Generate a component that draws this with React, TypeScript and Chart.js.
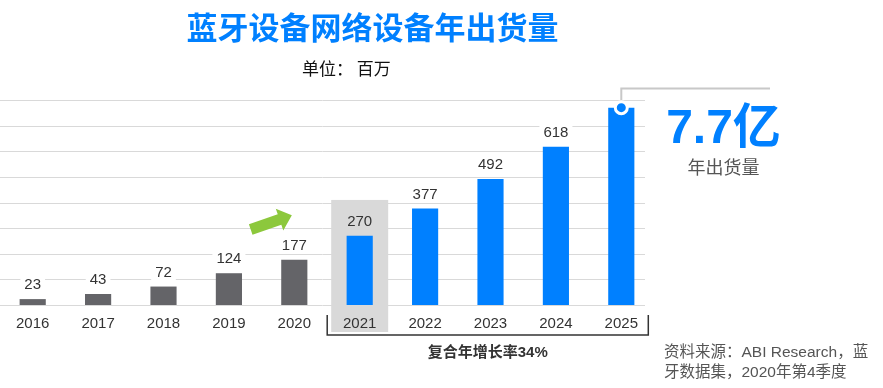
import React, { useEffect, useRef } from "react";
import { Chart, registerables } from "chart.js";

Chart.register(...registerables);

const years = ["2016", "2017", "2018", "2019", "2020", "2021", "2022", "2023", "2024", "2025"];
const shipments = [23, 43, 72, 124, 177, 270, 377, 492, 618, 770];
const forecastStartIndex = 5;
const gridValues = [0, 100, 200, 300, 400, 500, 600, 700, 800];
const highlightTopValue = 410;

const titleText = "蓝牙设备网络设备年出货量";
const unitText = "单位： 百万";
const calloutValue = "7.7亿";
const calloutLabel = "年出货量";
const cagrText = "复合年增长率34%";
const sourceLines = ["资料来源：ABI Research，蓝", "牙数据集，2020年第4季度"];

const BLUE = "#0080ff";
const GRAY_BAR = "#646468";
const GREEN = "#8cc83c";
const LATIN = '"Liberation Sans", "Noto Sans CJK SC", sans-serif';
const CJK = '"Noto Sans CJK SC", "Liberation Sans", sans-serif';

const decoPlugin = {
  id: "deco",
  beforeDraw(chart: any) {
    const { ctx, chartArea, scales } = chart;
    const x = scales.x;
    const y = scales.y;
    ctx.save();
    ctx.strokeStyle = "#d9d9d9";
    ctx.lineWidth = 1;
    gridValues.forEach((v) => {
      const py = Math.round(y.getPixelForValue(v)) + 0.5;
      ctx.beginPath();
      ctx.moveTo(0, py);
      ctx.lineTo(645, py);
      ctx.stroke();
    });
    const cx = x.getPixelForValue(forecastStartIndex);
    const top = y.getPixelForValue(highlightTopValue);
    ctx.fillStyle = "#d9d9d9";
    ctx.fillRect(cx - 28.5, top, 57, chartArea.bottom + 27 - top);
    ctx.translate(250.7, 229.5);
    ctx.rotate((-19 * Math.PI) / 180);
    const L = 43.5;
    ctx.fillStyle = GREEN;
    ctx.beginPath();
    ctx.moveTo(0, -5.5);
    ctx.lineTo(L - 13, -5.5);
    ctx.lineTo(L - 13, -11.5);
    ctx.lineTo(L, 0);
    ctx.lineTo(L - 13, 11.5);
    ctx.lineTo(L - 13, 5.5);
    ctx.lineTo(0, 5.5);
    ctx.closePath();
    ctx.fill();
    ctx.restore();
  },
  afterDatasetsDraw(chart: any) {
    const { ctx, scales } = chart;
    const x = scales.x;
    const y = scales.y;
    ctx.save();
    ctx.font = `15px ${LATIN}`;
    ctx.textAlign = "center";
    ctx.textBaseline = "middle";
    shipments.forEach((v, i) => {
      if (i === shipments.length - 1) return;
      const px = x.getPixelForValue(i);
      const py = y.getPixelForValue(v) - 14;
      const label = String(v);
      const w = ctx.measureText(label).width + 8;
      ctx.fillStyle = i === forecastStartIndex ? "#d9d9d9" : "#ffffff";
      ctx.fillRect(px - w / 2, py - 8, w, 16);
      ctx.fillStyle = "#333333";
      ctx.fillText(label, px, py);
    });
    const li = shipments.length - 1;
    const lx = x.getPixelForValue(li);
    const ly = y.getPixelForValue(shipments[li]);
    ctx.strokeStyle = "#c8c8c8";
    ctx.lineWidth = 2;
    ctx.beginPath();
    ctx.moveTo(lx, ly - 7);
    ctx.lineTo(lx, 88.5);
    ctx.lineTo(770, 88.5);
    ctx.stroke();
    ctx.beginPath();
    ctx.arc(lx, ly, 6, 0, Math.PI * 2);
    ctx.fillStyle = BLUE;
    ctx.fill();
    ctx.strokeStyle = "#ffffff";
    ctx.lineWidth = 3;
    ctx.stroke();
    ctx.textAlign = "center";
    ctx.textBaseline = "alphabetic";
    ctx.fillStyle = BLUE;
    ctx.font = `bold 48px ${LATIN}`;
    ctx.fillText(calloutValue, 723.5, 143);
    ctx.textBaseline = "middle";
    ctx.fillStyle = "#555555";
    ctx.font = `18px ${CJK}`;
    ctx.fillText(calloutLabel, 723.5, 167);
    const bl = x.getPixelForValue(forecastStartIndex) - 32.5;
    const br = x.getPixelForValue(li) + 27;
    ctx.strokeStyle = "#333333";
    ctx.lineWidth = 1.5;
    ctx.beginPath();
    ctx.moveTo(bl, 315);
    ctx.lineTo(bl, 335);
    ctx.lineTo(br, 335);
    ctx.lineTo(br, 315);
    ctx.stroke();
    ctx.fillStyle = "#333333";
    ctx.font = `bold 15px ${LATIN}`;
    ctx.fillText(cagrText, (bl + br) / 2, 352.5);
    ctx.fillStyle = BLUE;
    ctx.font = `bold 31px ${CJK}`;
    ctx.fillText(titleText, 372.5, 27.5);
    ctx.fillStyle = "#111111";
    ctx.font = `17px ${CJK}`;
    ctx.textAlign = "left";
    ctx.fillText(unitText, 302, 68.5);
    ctx.fillStyle = "#555555";
    ctx.font = `15.5px ${LATIN}`;
    ctx.fillText(sourceLines[0], 664, 353);
    ctx.fillText(sourceLines[1], 664, 373);
    ctx.restore();
  },
};

export default function App() {
  const canvasRef = useRef<HTMLCanvasElement | null>(null);
  useEffect(() => {
    if (!canvasRef.current) return;
    const chart = new Chart(canvasRef.current, {
      type: "bar",
      data: {
        labels: years,
        datasets: [
          {
            data: shipments,
            backgroundColor: shipments.map((_, i) => (i >= forecastStartIndex ? BLUE : GRAY_BAR)),
            borderWidth: 0,
            barPercentage: 0.4,
            categoryPercentage: 1,
          },
        ],
      },
      options: {
        responsive: false,
        animation: false,
        devicePixelRatio: 1,
        layout: { padding: { left: 0, right: 229, top: 100, bottom: 45 } },
        plugins: { legend: { display: false }, tooltip: { enabled: false }, title: { display: false } },
        scales: {
          x: {
            offset: true,
            grid: { display: false, drawTicks: false },
            border: { display: false },
            ticks: { color: "#333333", font: { size: 15, family: LATIN }, padding: 10 },
          },
          y: {
            display: false,
            min: 0,
            max: 800,
          },
        },
      },
      plugins: [decoPlugin],
    });
    return () => chart.destroy();
  }, []);
  return (
    <div style={{ position: "absolute", left: 0, top: 0, width: 883, height: 388, background: "#fff" }}>
      <canvas ref={canvasRef} width={883} height={388} />
    </div>
  );
}
